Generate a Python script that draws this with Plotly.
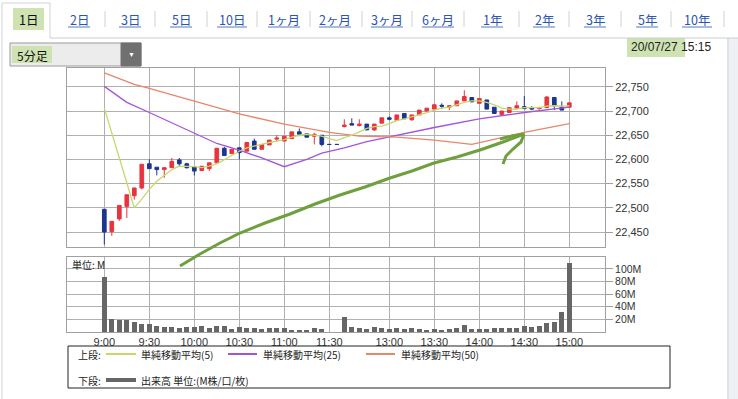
import plotly.graph_objects as go

W, H = 738, 399

# ---------------- data ----------------
time_ticks = ["9:00", "9:30", "10:00", "10:30", "11:00", "11:30", "13:00", "13:30", "14:00", "14:30", "15:00"]
time_tick_idx = [0, 6, 12, 18, 24, 30, 38, 44, 50, 56, 62]

opens = [22497, 22451, 22477, 22503, 22525, 22541, 22591, 22584, 22579, 22583,
         22599, 22591, 22585, 22577, 22581, 22593, 22623, 22612, 22624, 22617,
         22638, 22621, 22630, 22642, 22638, 22643, 22657, 22653, 22648, 22650,
         22631, 22631, 22668, 22674, 22670, 22673, 22661, 22675, 22686, 22681,
         22695, 22682, 22692, 22700, 22704, 22712, 22708, 22711, 22721, 22728,
         22716, 22723, 22708, 22693, 22697, 22706, 22709, 22707, 22705, 22707,
         22728, 22708, 22708]
highs = [22497, 22472, 22505, 22527, 22541, 22590, 22600, 22584, 22583, 22603,
         22603, 22593, 22585, 22586, 22593, 22624, 22626, 22621, 22624, 22635,
         22643, 22631, 22640, 22650, 22648, 22657, 22664, 22653, 22655, 22650,
         22631, 22631, 22683, 22685, 22683, 22673, 22673, 22686, 22689, 22692,
         22695, 22692, 22702, 22706, 22713, 22716, 22711, 22721, 22743, 22728,
         22726, 22723, 22708, 22700, 22707, 22720, 22731, 22710, 22709, 22731,
         22728, 22720, 22717]
lows = [22424, 22442, 22473, 22479, 22517, 22538, 22581, 22567, 22562, 22583,
        22586, 22581, 22567, 22577, 22576, 22593, 22608, 22612, 22600, 22617,
        22621, 22621, 22630, 22638, 22638, 22643, 22648, 22646, 22631, 22627,
        22631, 22631, 22666, 22671, 22668, 22661, 22659, 22675, 22681, 22681,
        22684, 22680, 22692, 22700, 22704, 22704, 22702, 22711, 22721, 22719,
        22716, 22704, 22695, 22690, 22697, 22706, 22705, 22702, 22703, 22707,
        22702, 22702, 22708]
closes = [22450, 22472, 22505, 22527, 22541, 22590, 22581, 22579, 22583, 22596,
          22591, 22583, 22576, 22586, 22593, 22623, 22608, 22621, 22614, 22635,
          22621, 22631, 22640, 22644, 22648, 22657, 22652, 22646, 22652, 22631,
          22631, 22631, 22671, 22671, 22673, 22661, 22673, 22686, 22683, 22692,
          22684, 22692, 22702, 22706, 22713, 22710, 22711, 22721, 22730, 22719,
          22726, 22704, 22695, 22700, 22707, 22711, 22705, 22704, 22707, 22729,
          22711, 22702, 22717]
volume_m = [87, 21, 18.5, 18.5, 15.3, 12.2, 12.2, 10, 8.5, 7.4,
            6.4, 7.4, 7.4, 9, 6.4, 9, 9, 5.3, 7.4, 5.8,
            5.8, 4.7, 5.8, 6.4, 6.4, 3.7, 3.7, 3.7, 5.8, 4.7,
            0.6, 0, 24, 8.5, 5.8, 4.8, 7.4, 5.8, 4.8, 6.5,
            4.8, 6.5, 4.8, 3.7, 4.8, 3.7, 5.4, 7, 10.6, 4.8,
            4.8, 4.8, 6.5, 6.5, 6.5, 6.5, 9.5, 8, 9.5, 14.3,
            16, 32.5, 109]
ma5 = [22706, None, None, None, 22500, 22518, 22538, 22555, 22567, 22579,
       22586, 22586, 22585, 22583, 22586, 22591, 22600, 22608, 22617, 22624,
       22628, 22631, 22635, 22638, 22641, 22646, 22650, 22652, 22650, 22648,
       22643, 22639, 22645, 22650, 22657, 22664, 22668, 22669, 22674, 22680,
       22684, 22688, 22692, 22697, 22702, 22706, 22708, 22713, 22718, 22721,
       22721, 22718, 22713, 22706, 22704, 22704, 22707, 22707, 22707, 22710,
       22711, 22710, 22711]
ma25_idx = [0, 3, 6, 9, 12, 15, 18, 21, 24, 27, 29, 32, 35, 38, 44, 50, 56, 62]
ma25_val = [22751, 22718, 22697, 22676, 22655, 22633, 22619, 22603, 22585, 22600,
            22613, 22624, 22637, 22647, 22666, 22684, 22697, 22708]
ma50_idx = [0, 4, 6, 12, 18, 24, 30, 34, 39, 44, 49, 53, 56, 62]
ma50_val = [22779, 22755, 22747, 22720, 22694, 22673, 22656, 22648, 22646, 22640,
            22631, 22645, 22656, 22674]
price_ticks = [22450, 22500, 22550, 22600, 22650, 22700, 22750]
vol_ticks = [20, 40, 60, 80, 100]
vol_tick_text = ["20M", "40M", "60M", "80M", "100M"]
tabs = ["1日", "2日", "3日", "5日", "10日", "1ヶ月", "2ヶ月", "3ヶ月", "6ヶ月", "1年", "2年", "3年", "5年", "10年"]

idx = list(range(len(closes)))

# ---------------- helpers (pixel -> paper) ----------------
def px(x):
    return x / W

def py(y):
    return 1 - y / H

GRID = "#b0b0b0"
FRAME = "#a0a0a0"
FONT_NUM = "Liberation Sans, Arial, sans-serif"
FONT_JP = "Noto Sans CJK JP, sans-serif"
RED = "#e8343f"
BLUE = "#1b3590"

fig = go.Figure()

fig.add_trace(go.Candlestick(
    x=idx, open=opens, high=highs, low=lows, close=closes,
    increasing=dict(line=dict(color=RED, width=1), fillcolor=RED),
    decreasing=dict(line=dict(color=BLUE, width=1), fillcolor=BLUE),
    whiskerwidth=0, xaxis="x", yaxis="y", showlegend=False, hoverinfo="skip",
))
fig.add_trace(go.Scatter(x=ma25_idx, y=ma25_val, mode="lines",
                         line=dict(color="#a653dc", width=1.3), xaxis="x", yaxis="y",
                         showlegend=False, hoverinfo="skip"))
fig.add_trace(go.Scatter(x=ma50_idx, y=ma50_val, mode="lines",
                         line=dict(color="#e8866a", width=1.3), xaxis="x", yaxis="y",
                         showlegend=False, hoverinfo="skip"))
fig.add_trace(go.Scatter(x=idx, y=ma5, mode="lines", connectgaps=True,
                         line=dict(color="#c5d86a", width=1.3), xaxis="x", yaxis="y",
                         showlegend=False, hoverinfo="skip"))
fig.add_trace(go.Bar(x=idx, y=volume_m, marker=dict(color="#666666", line=dict(width=0)),
                     width=0.68, xaxis="x2", yaxis="y2", showlegend=False, hoverinfo="skip"))

x_left, x_right = 67, 605
xr = [-(104.3 - x_left) / 7.5, 62 + (x_right - 569.3) / 7.5]

common_x = dict(range=xr, tickvals=time_tick_idx, ticktext=time_ticks, showgrid=True,
                gridcolor=GRID, gridwidth=1, showline=True, linecolor=FRAME, mirror=True,
                zeroline=False, ticks="", fixedrange=True)

fig.update_layout(
    width=W, height=H, margin=dict(l=0, r=0, t=0, b=0),
    paper_bgcolor="white", plot_bgcolor="white", bargap=0,
    xaxis=dict(domain=[px(x_left), px(x_right)], anchor="y", showticklabels=False,
               rangeslider=dict(visible=False), **common_x),
    xaxis2=dict(domain=[px(x_left), px(x_right)], anchor="y2", showticklabels=True,
                tickfont=dict(family=FONT_NUM, size=11, color="#333"), **common_x),
    yaxis=dict(domain=[py(247), py(68)], anchor="x", side="right", range=[22419, 22789],
               tickvals=price_ticks, tickformat=",", ticks="outside", ticklen=7,
               tickcolor=FRAME, showgrid=True, gridcolor=GRID, showline=True, linecolor=FRAME,
               mirror=True, zeroline=False, tickfont=dict(family=FONT_NUM, size=11, color="#333")),
    yaxis2=dict(domain=[py(332), py(257)], anchor="x2", side="right", range=[0, 119],
                tickvals=vol_ticks, ticktext=vol_tick_text, ticks="outside", ticklen=7,
                tickcolor=FRAME, showgrid=True, gridcolor=GRID, showline=True, linecolor=FRAME,
                mirror=True, zeroline=False, tickfont=dict(family=FONT_NUM, size=10.5, color="#333")),
)

shapes = []
annotations = []

def line(x0, y0, x1, y1, color, width=1, layer="above"):
    shapes.append(dict(type="line", xref="paper", yref="paper", x0=px(x0), y0=py(y0),
                       x1=px(x1), y1=py(y1), line=dict(color=color, width=width), layer=layer))

def rect(x0, y0, x1, y1, fill, lc=None, lw=0, layer="below"):
    shapes.append(dict(type="rect", xref="paper", yref="paper", x0=px(x0), y0=py(y0),
                       x1=px(x1), y1=py(y1), fillcolor=fill,
                       line=dict(color=lc or fill, width=lw), layer=layer))

def text(x, y, s, size=11, color="#222", family=FONT_JP, xanchor="left", bg=None):
    d = dict(xref="paper", yref="paper", x=px(x), y=py(y), text=s, showarrow=False,
             xanchor=xanchor, yanchor="middle", font=dict(size=size, color=color, family=family))
    if bg:
        d["bgcolor"] = bg
    annotations.append(d)

# page frame / tab row
rect(729, 38, 738, 399, "#eef0f4")
line(728, 38, 728, 399, "#d3d8e2", 1.5)
line(2, 3, 2, 399, "#cfd3da", 1)
line(2, 3, 50, 3, "#cfd3da", 1)
line(50, 3, 50, 38, "#cfd3da", 1)
line(50, 38, 738, 38, "#c9cdd4", 1)

tab_x = [28, 79, 130, 181, 232, 284, 335, 387, 438, 492, 544, 595, 647, 697]
sep_x = [105, 155, 207, 257, 310, 362, 412, 464, 519, 569, 621, 671, 724]
rect(13, 8, 44, 30, "#cfe3b2")
for i, (t, x) in enumerate(zip(tabs, tab_x)):
    if i == 0:
        text(x, 19, t, size=12.5, color="#111", xanchor="center")
    else:
        text(x, 19, t, size=12.5, color="#2a55b0", xanchor="center")
        wdt = {2: 11, 3: 15}.get(len(t), 11)
        if "ヶ" in t:
            wdt = 16
        line(x - wdt, 27, x + wdt, 27, "#2a55b0", 0.8)
for x in sep_x:
    line(x, 11, x, 27, "#d0d0d0", 1)

# dropdown
rect(10, 43, 141, 66, "#ececec", "#9a9a9a", 1)
rect(121, 43, 141, 66, "#707070", "#707070", 1)
rect(12, 46, 52, 63, "#cfe3b2")
text(15, 55, "5分足", size=12, color="#111")
text(131, 54.5, "▼", size=7, color="white", xanchor="center", family=FONT_NUM)

# date
rect(627, 38, 685, 57, "#cfe3b2")
text(629, 47, "20/07/27 15:15", size=12, color="#222", family=FONT_NUM)

# volume unit label
text(70, 264, "単位: M", size=10, color="#222")

# legend box
rect(68, 346, 670, 388, "rgba(0,0,0,0)", "#222", 1, layer="above")
text(76, 354, "上段:", size=10)
line(106, 354, 136, 354, "#c5d86a", 2)
text(139, 354, "単純移動平均(5)", size=10)
line(228, 354, 257, 354, "#a653dc", 2)
text(261, 354, "単純移動平均(25)", size=10)
line(366, 354, 395, 354, "#e8866a", 2)
text(399, 354, "単純移動平均(50)", size=10)
text(76, 380, "下段:", size=10)
line(106, 380, 136, 380, "#666666", 4)
text(139, 380, "出来高 単位:(M株/口/枚)", size=10)

# hand-drawn green arrow
arrow_pts = [(180, 266), (200, 254), (220, 243), (240, 233), (265, 223), (290, 214),
             (315, 204), (340, 195), (365, 187), (390, 178), (412, 171), (434, 163),
             (457, 157), (480, 150), (503, 142), (524, 134)]
barb_pts = [(500, 139), (512, 136), (524, 134)]
hook_pts = [(524, 134), (521, 142), (513, 149), (506, 156), (503, 164)]
GREEN = "#6f9f3e"
for pts in (arrow_pts, barb_pts, hook_pts):
    path = "M " + " L ".join(f"{px(x):.5f},{py(y):.5f}" for x, y in pts)
    shapes.append(dict(type="path", xref="paper", yref="paper", path=path,
                       line=dict(color=GREEN, width=3), layer="above"))

fig.update_layout(shapes=shapes, annotations=annotations)

fig.write_html("out.html", config={"displayModeBar": False, "staticPlot": True},
               post_script="document.body.style.margin='0';document.body.style.overflow='hidden';")
